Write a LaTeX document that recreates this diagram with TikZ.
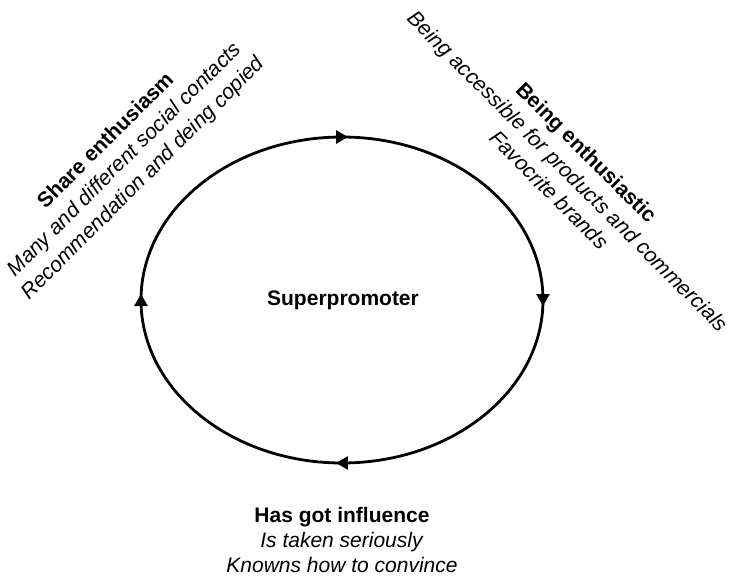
\documentclass[tikz,border=0pt]{standalone}
\usepackage{fontspec}
\setmainfont{Liberation Sans}
\usetikzlibrary{decorations.markings,arrows.meta,calc}
\begin{document}
\begin{tikzpicture}[x=0.5pt,y=-0.5pt,
  ring/.style={line width=1.4pt},
  tipmark/.style={postaction={decorate},decoration={markings,
    mark=at position 0.5 with {\arrow[xshift=3pt]{Triangle[length=6pt,width=6.5pt]}}}},
  lbl/.style={align=center,inner sep=0pt,font=\fontsize{10.5}{12.5}\selectfont},
  rlbl/.style={align=center,inner sep=0pt,font=\fontsize{10.6}{13.2}\selectfont}]
\useasboundingbox (0,0) rectangle (729,575);
\coordinate (c) at (342,300);
\draw[ring] (c) ellipse [x radius=201, y radius=163];
\path[ring,tipmark] ($(c)+(180:201 and 163)$) arc[start angle=180, end angle=360, x radius=201, y radius=163];
\path[ring,tipmark] ($(c)+(-90:201 and 163)$) arc[start angle=-90, end angle=90, x radius=201, y radius=163];
\path[ring,tipmark] ($(c)+(0:201 and 163)$) arc[start angle=0, end angle=180, x radius=201, y radius=163];
\path[ring,tipmark] ($(c)+(90:201 and 163)$) arc[start angle=90, end angle=270, x radius=201, y radius=163];
\node[lbl,font=\fontsize{10.5}{12.5}\selectfont\bfseries] (sp) at (343,300) {Superpromoter};
\node[rlbl,rotate=45] (share) at (125,160) {\textbf{Share enthusiasm}\\\textit{Many and different social contacts}\\\textit{Recommendation and deing copied}};
\node[rlbl,rotate=-45] (enth) at (568,171) {\textbf{Being enthusiastic}\\\textit{Being accessible for products and commercials}\\\textit{Favocrite brands}};
\node[lbl] (infl) at (342,540) {\textbf{Has got influence}\\\textit{Is taken seriously}\\\textit{Knowns how to convince}};
\end{tikzpicture}
\end{document}
